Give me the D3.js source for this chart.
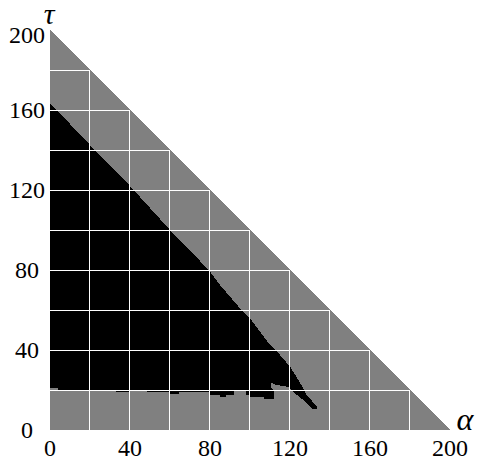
<!DOCTYPE html>
<html>
<head>
<meta charset="utf-8">
<script src="https://cdn.jsdelivr.net/npm/d3@7"></script>
<style>
  body { margin: 0; background: #fff; }
</style>
</head>
<body>
<div id="chart"></div>
<script>
// ticks and grid
var alphaTicks = [0, 40, 80, 120, 160, 200];
var tauTicks = [0, 40, 80, 120, 160, 200];
var gridValues = [20, 40, 60, 80, 100, 120, 140, 160, 180];

// feasible region: alpha + tau <= 200 (gray)
var regionCorners = [[0, 0], [200, 0], [0, 200]];

// black region outline, [alpha, tau]
var blackOutline = [
  [0, 163.5], [20, 142.5], [40, 122], [50, 111], [60, 100], [70, 89.5],
  [75, 84.5], [80, 79.2], [85, 72.5], [90, 66.7], [95, 60.8], [100, 55.8],
  [105, 49.2], [110, 42.5], [115, 37.5], [120, 31.7], [123.6, 26], [126, 22],
  [128, 18], [131, 14.5], [133.5, 11.5], [133.5, 10.5],
  // tail underside and the gray notch
  [131, 10.5], [126, 15.5], [121, 19.5], [120, 21], [117, 22], [113, 22.5],
  [110.5, 23.7], [110.5, 21], [112, 20], [112, 15.3],
  // ragged lower edge
  [107, 15.3], [107, 16.7], [100, 16.7], [100, 17.5], [98, 17.5], [98, 20],
  [92, 20], [92, 17.5], [88, 17.5], [88, 16.7], [85, 16.7], [85, 17.5],
  [80, 17.5], [80, 18.8], [64.5, 18.8], [64.5, 17.8], [60, 17.8], [60, 18.8],
  [48.5, 18.8], [48.5, 20], [40, 20], [40, 18.8], [33, 18.8], [33, 20],
  [4, 20], [4, 21], [0, 21]
];

var width = 485, height = 460;
var serif = "'Liberation Serif'";

var x = d3.scaleLinear().domain([0, 200]).range([50, 450]);
var y = d3.scaleLinear().domain([0, 200]).range([430, 30]);

var svg = d3.select("#chart").append("svg")
  .attr("width", width)
  .attr("height", height);

var outline = d3.line()
  .x(function(d){ return x(d[0]); })
  .y(function(d){ return y(d[1]); });

// GRAY TRIANGLE.
svg.append("path")
  .attr("d", outline(regionCorners) + "Z")
  .attr("fill", "#808080")
  .attr("shape-rendering", "crispEdges");

// BLACK REGION.
svg.append("path")
  .attr("d", outline(blackOutline) + "Z")
  .attr("fill", "#000")
  .attr("shape-rendering", "crispEdges");

// GRID, clipped to the triangle.
svg.selectAll(".vgrid")
  .data(gridValues).enter()
  .append("line")
  .attr("class", "vgrid")
  .attr("x1", function(d){ return x(d) - 0.5; })
  .attr("x2", function(d){ return x(d) - 0.5; })
  .attr("y1", y(0))
  .attr("y2", function(d){ return y(200 - d); })
  .attr("stroke", "#fff")
  .attr("stroke-width", 1);

svg.selectAll(".hgrid")
  .data(gridValues).enter()
  .append("line")
  .attr("class", "hgrid")
  .attr("y1", function(d){ return y(d) + 0.5; })
  .attr("y2", function(d){ return y(d) + 0.5; })
  .attr("x1", x(0))
  .attr("x2", function(d){ return x(200 - d); })
  .attr("stroke", "#fff")
  .attr("stroke-width", 1);

// LEFT LEGEND.
svg.selectAll(".ylab")
  .data(tauTicks).enter()
  .append("text")
  .attr("class", "ylab")
  .text(function(d){ return d; })
  .attr("text-anchor", "middle")
  .attr("x", 27)
  .attr("y", function(d){ return y(d) + 8 + (d === 200 ? 5 : 0); })
  .style("font-family", serif)
  .style("font-size", "24px");

// BOTTOM LEGEND.
svg.selectAll(".xlab")
  .data(alphaTicks).enter()
  .append("text")
  .attr("class", "xlab")
  .text(function(d){ return d; })
  .attr("text-anchor", "middle")
  .attr("x", function(d){ return x(d); })
  .attr("y", 456)
  .style("font-family", serif)
  .style("font-size", "24px");

// AXIS NAMES.
svg.append("text")
  .text("τ")
  .attr("x", 49)
  .attr("y", 24)
  .attr("text-anchor", "middle")
  .style("font-family", serif)
  .style("font-style", "italic")
  .style("font-size", "30px");

svg.append("text")
  .text("α")
  .attr("x", 465)
  .attr("y", 430)
  .attr("text-anchor", "middle")
  .style("font-family", serif)
  .style("font-style", "italic")
  .style("font-size", "32px");
</script>
</body>
</html>
